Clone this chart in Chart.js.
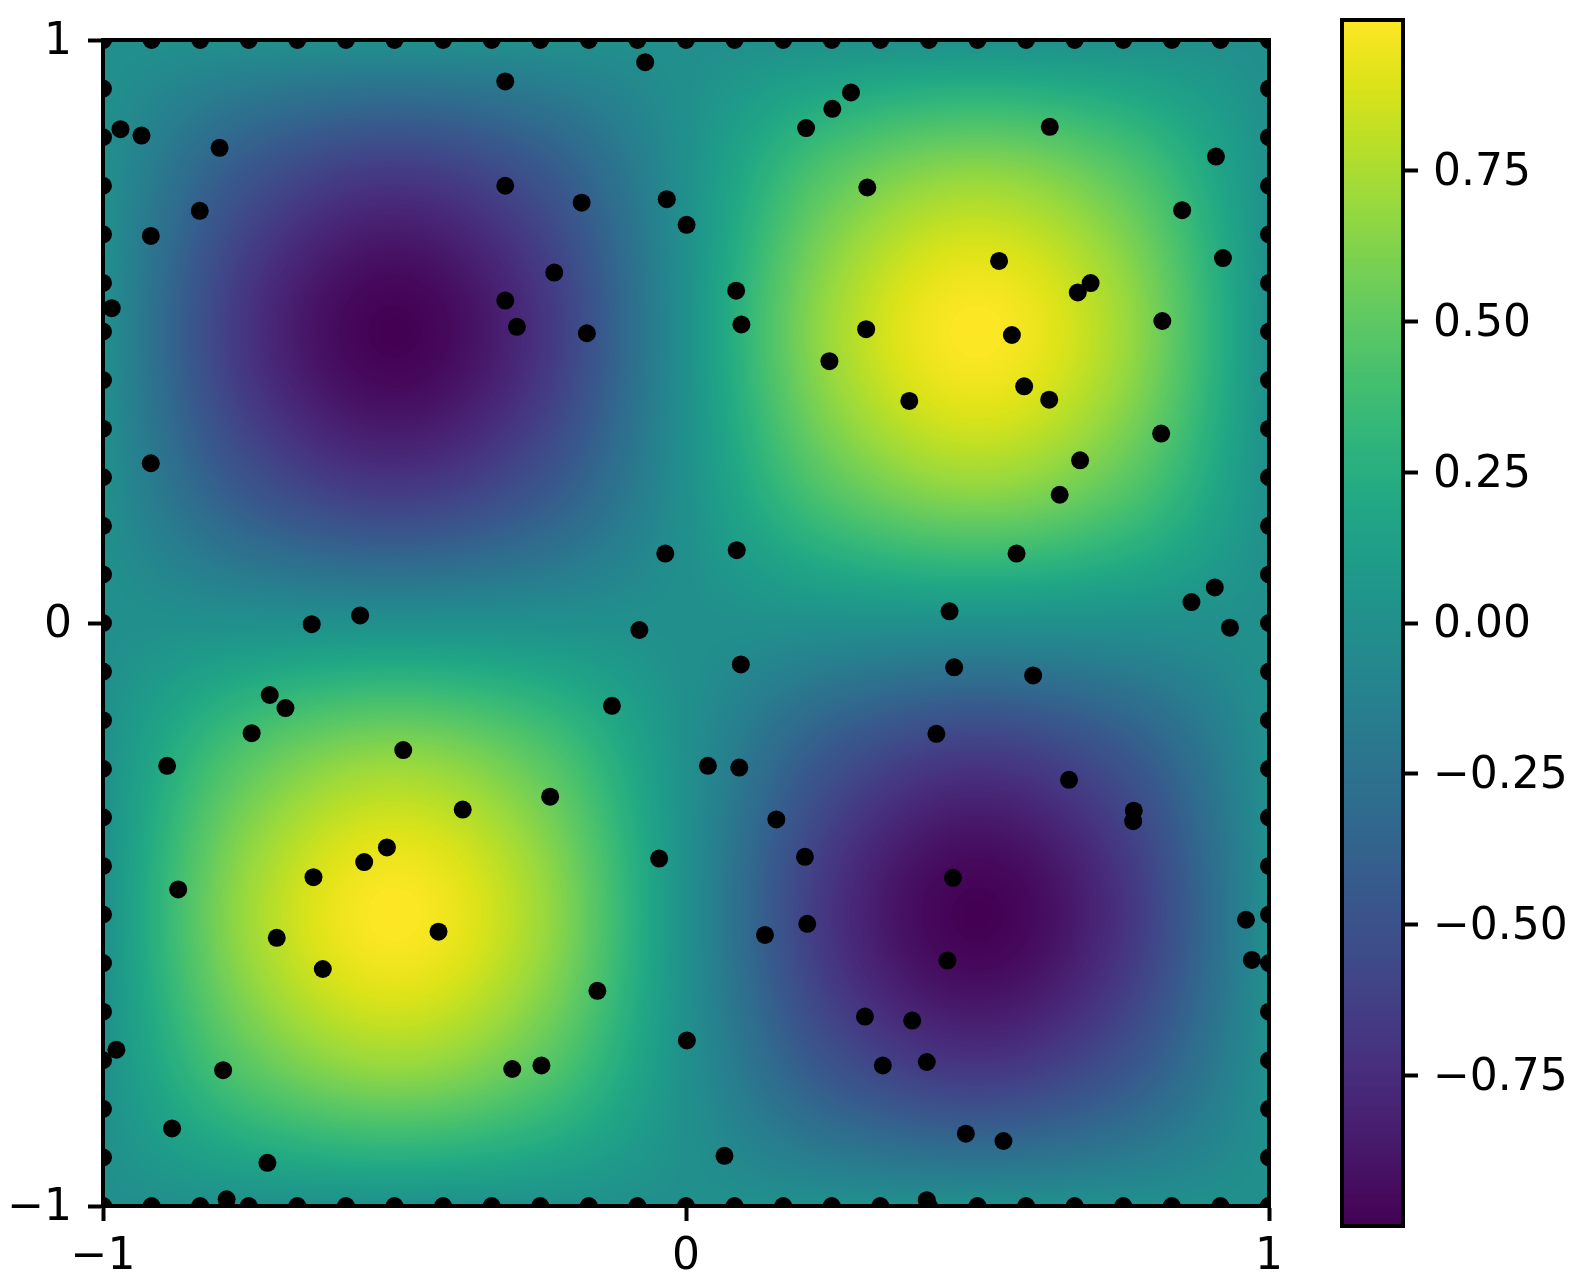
<!DOCTYPE html>
<html><head><meta charset="utf-8">
<script src="https://cdn.jsdelivr.net/npm/chart.js@4/dist/chart.umd.min.js"></script>
<style>
html,body{margin:0;padding:0;background:#fff;overflow:hidden}
#wrap{position:relative;width:1585px;height:1282px;background:#fff}
#main{position:absolute;left:0;top:0}
#cb{position:absolute;left:1300px;top:0}
</style></head><body>
<div id="wrap"><canvas id="main" width="1585" height="1282"></canvas><canvas id="cb" width="285" height="1282"></canvas></div>
<script>
// ---------- data ----------
const pointX = [-0.310,-0.070,-0.970,-0.934,-0.800,-0.834,-0.918,-0.985,-0.918,-0.310,
  -0.179,-0.033,0.001,-0.226,-0.310,-0.290,-0.170,0.206,0.251,0.283,
  0.311,0.624,0.909,0.851,0.921,0.086,0.095,0.537,0.694,0.672,
  0.309,0.559,0.817,0.246,0.580,0.383,0.623,0.815,0.676,0.641,
  -0.0355,0.087,0.567,0.907,0.867,0.933,0.452,-0.642,-0.559,-0.080,
  0.094,0.460,0.5955,-0.714,-0.687,-0.127,-0.745,0.4295,-0.485,-0.890,
  0.0376,0.0914,0.657,-0.383,-0.233,0.768,0.767,0.155,-0.513,-0.552,
  -0.639,-0.046,0.204,0.458,-0.871,0.208,-0.4245,-0.702,0.1355,0.4485,
  -0.623,0.9605,0.9705,-0.152,0.307,0.388,0.0015,-0.977,-0.298,-0.248,
  -0.794,0.3376,0.413,-0.8815,0.480,0.5445,0.066,-0.718,-0.788,0.413];
const pointY = [0.929,0.962,0.847,0.836,0.815,0.707,0.664,0.540,0.274,0.750,
  0.721,0.727,0.683,0.601,0.553,0.508,0.497,0.849,0.882,0.910,
  0.747,0.851,0.800,0.708,0.626,0.570,0.512,0.621,0.583,0.567,
  0.504,0.494,0.518,0.449,0.406,0.381,0.383,0.325,0.279,0.220,
  0.119,0.125,0.119,0.061,0.036,-0.008,0.020,-0.002,0.013,-0.012,
  -0.071,-0.076,-0.090,-0.1235,-0.146,-0.142,-0.189,-0.190,-0.218,-0.245,
  -0.245,-0.248,-0.269,-0.320,-0.298,-0.322,-0.340,-0.337,-0.385,-0.410,
  -0.436,-0.404,-0.401,-0.437,-0.457,-0.516,-0.5295,-0.540,-0.535,-0.579,
  -0.5935,-0.509,-0.578,-0.631,-0.675,-0.682,-0.716,-0.732,-0.765,-0.759,
  -0.767,-0.759,-0.753,-0.867,-0.876,-0.8885,-0.914,-0.926,-0.9885,-0.990];
// points placed along the four borders of the square
const edgeValues = [-1,-0.9167,-0.8333,-0.75,-0.6667,-0.5833,-0.5,-0.4167,-0.3333,-0.25,-0.1667,-0.0833,
  0,0.0833,0.1667,0.25,0.3333,0.4167,0.5,0.5833,0.6667,0.75,0.8333,0.9167,1];
const edgeLevels = [-1, 1];

const xTicks = [-1, 0, 1];
const xTickLabels = ['\u22121', '0', '1'];
const yTicks = [-1, 0, 1];
const yTickLabels = ['\u22121', '0', '1'];
const cbTicks = [-0.75, -0.5, -0.25, 0, 0.25, 0.5, 0.75];
const cbTickLabels = ['\u22120.75', '\u22120.50', '\u22120.25', '0.00', '0.25', '0.50', '0.75'];

// background field sampled on a coarse lattice (rows top -> bottom)
const fieldX = [-1, -0.75, -0.5, -0.25, 0, 0.25, 0.5, 0.75, 1];
const fieldY = [1, 0.75, 0.5, 0.25, 0, -0.25, -0.5, -0.75, -1];
const fieldValues = [
  [0, 0, 0, 0, 0, 0, 0, 0, 0],
  [0, -0.5, -0.71, -0.5, 0, 0.5, 0.71, 0.5, 0],
  [0, -0.71, -1, -0.71, 0, 0.71, 1, 0.71, 0],
  [0, -0.5, -0.71, -0.5, 0, 0.5, 0.71, 0.5, 0],
  [0, 0, 0, 0, 0, 0, 0, 0, 0],
  [0, 0.5, 0.71, 0.5, 0, -0.5, -0.71, -0.5, 0],
  [0, 0.71, 1, 0.71, 0, -0.71, -1, -0.71, 0],
  [0, 0.5, 0.71, 0.5, 0, -0.5, -0.71, -0.5, 0],
  [0, 0, 0, 0, 0, 0, 0, 0, 0]
];
const colorMin = -1, colorMax = 1;

// ---------- style ----------
const viridisStops = ['#440154','#471365','#482475','#463480','#414487','#3b528b','#355f8d','#2f6c8e',
  '#2a788e','#25848e','#21908c','#1e9c89','#22a884','#2fb47c','#44bf70','#5dc863','#7ad151','#9ad93c',
  '#bbdf27','#dee318','#fde725'];
const FONT = {family: "'DejaVu Sans', sans-serif", size: 44};
Chart.defaults.font.family = FONT.family;

// colour lookup table
const LUT = (() => {
  const rgb = viridisStops.map(h => [parseInt(h.slice(1,3),16), parseInt(h.slice(3,5),16), parseInt(h.slice(5,7),16)]);
  const out = [];
  for (let i = 0; i < 256; i++) {
    const p = i / 255 * (rgb.length - 1);
    const k = Math.min(Math.floor(p), rgb.length - 2);
    const f = p - k;
    out.push([0,1,2].map(c => Math.round(rgb[k][c] + (rgb[k+1][c] - rgb[k][c]) * f)));
  }
  return out;
})();
function colorOf(v) {
  let idx = Math.round((v - colorMin) / (colorMax - colorMin) * 255);
  return LUT[Math.max(0, Math.min(255, idx))];
}

// padded lattice for smooth (Catmull-Rom) rendering of the field
const padded = (() => {
  const R = fieldValues.length, C = fieldValues[0].length;
  const P = [];
  for (let r = 0; r < R + 2; r++) P.push(new Array(C + 2).fill(0));
  for (let r = 0; r < R; r++) for (let c = 0; c < C; c++) P[r+1][c+1] = fieldValues[r][c];
  for (let r = 1; r <= R; r++) { P[r][0] = 2*P[r][1] - P[r][2]; P[r][C+1] = 2*P[r][C] - P[r][C-1]; }
  for (let c = 0; c < C + 2; c++) { P[0][c] = 2*P[1][c] - P[2][c]; P[R+1][c] = 2*P[R][c] - P[R-1][c]; }
  return P;
})();
function crWeights(axis, v) {
  let k = 0;
  const asc = axis[1] > axis[0];
  for (let i = 0; i < axis.length - 1; i++) {
    const a = axis[i], b = axis[i+1];
    if ((asc && v >= a && v <= b) || (!asc && v <= a && v >= b)) { k = i; break; }
    if (i === axis.length - 2) k = i;
  }
  let t = (v - axis[k]) / (axis[k+1] - axis[k]);
  t = Math.max(0, Math.min(1, t));
  const t2 = t*t, t3 = t2*t;
  return {k, w: [(-t3 + 2*t2 - t)/2, (3*t3 - 5*t2 + 2)/2, (-3*t3 + 4*t2 + t)/2, (t3 - t2)/2]};
}

const heatmapPlugin = {
  id: 'heatmap',
  beforeDatasetsDraw(chart) {
    const {ctx, chartArea: a, scales: {x: xs, y: ys}} = chart;
    const L = Math.round(a.left), T = Math.round(a.top);
    const W = Math.round(a.right) - L, H = Math.round(a.bottom) - T;
    const img = ctx.createImageData(W, H);
    const cols = [], rows = [];
    for (let i = 0; i < W; i++) cols.push(crWeights(fieldX, xs.getValueForPixel(L + i + 0.5)));
    for (let j = 0; j < H; j++) rows.push(crWeights(fieldY, ys.getValueForPixel(T + j + 0.5)));
    const d = img.data;
    for (let j = 0; j < H; j++) {
      const rw = rows[j];
      for (let i = 0; i < W; i++) {
        const cw = cols[i];
        let v = 0;
        for (let m = 0; m < 4; m++) {
          const row = padded[rw.k + m];
          let s = 0;
          for (let n = 0; n < 4; n++) s += cw.w[n] * row[cw.k + n];
          v += rw.w[m] * s;
        }
        const c = colorOf(v);
        const o = (j * W + i) * 4;
        d[o] = c[0]; d[o+1] = c[1]; d[o+2] = c[2]; d[o+3] = 255;
      }
    }
    ctx.putImageData(img, L, T);
  }
};

const framePlugin = {
  id: 'frame',
  afterDatasetsDraw(chart) {
    const {ctx, chartArea: a} = chart;
    ctx.save();
    ctx.strokeStyle = '#000';
    ctx.lineWidth = 4;
    ctx.lineCap = 'square';
    ctx.beginPath();
    ctx.moveTo(a.left, a.top); ctx.lineTo(a.right, a.top); ctx.lineTo(a.right, a.bottom);
    ctx.stroke();
    ctx.restore();
  }
};

// build the scatter table
const points = [];
for (let i = 0; i < pointX.length; i++) points.push({x: pointX[i], y: pointY[i]});
for (const lv of edgeLevels) for (const v of edgeValues) { points.push({x: v, y: lv}); points.push({x: lv, y: v}); }

function zeroPad(s) { s.paddingTop = 0; s.paddingBottom = 0; s.paddingLeft = 0; s.paddingRight = 0; }

function axisOpts(ticksArr, labelsArr, isX) {
  return {
    type: 'linear', min: -1, max: 1,
    position: isX ? 'bottom' : 'left',
    afterFit: s => { if (isX) s.height = 76; else s.width = 103; zeroPad(s); },
    afterBuildTicks: s => { s.ticks = ticksArr.map(v => ({value: v})); },
    ticks: {autoSkip: false, maxRotation: 0, minRotation: 0, font: FONT, color: '#000',
      padding: isX ? 10 : 16, labelOffset: isX ? 0 : 3,
      callback: v => labelsArr[ticksArr.indexOf(v)]},
    grid: {display: true, drawOnChartArea: false, drawTicks: true, tickLength: 15, tickWidth: 4, tickColor: '#000'},
    border: {display: true, color: '#000', width: 4, z: 1}
  };
}

new Chart(document.getElementById('main'), {
  type: 'scatter',
  data: {datasets: [{data: points, pointRadius: 9, pointHoverRadius: 9, pointBackgroundColor: '#000',
    backgroundColor: '#000', borderWidth: 0, pointBorderWidth: 0, clip: 0}]},
  options: {
    responsive: false, animation: false, events: [],
    layout: {padding: {top: 40, right: 316, bottom: 0, left: 0}},
    plugins: {legend: {display: false}, tooltip: {enabled: false}},
    scales: {x: axisOpts(xTicks, xTickLabels, true), y: axisOpts(yTicks, yTickLabels, false)}
  },
  plugins: [heatmapPlugin, framePlugin]
});

// ---------- colour bar ----------
const colorbarPlugin = {
  id: 'colorbar',
  beforeDatasetsDraw(chart) {
    const {ctx, chartArea: a, scales: {y: ys}} = chart;
    ctx.save();
    for (let py = Math.floor(a.top); py < Math.ceil(a.bottom); py++) {
      const c = colorOf(ys.getValueForPixel(py + 0.5));
      ctx.fillStyle = 'rgb(' + c.join(',') + ')';
      ctx.fillRect(a.left, py, a.right - a.left, 1);
    }
    ctx.strokeStyle = '#000';
    ctx.lineWidth = 4;
    ctx.strokeRect(a.left, a.top, a.right - a.left, a.bottom - a.top);
    ctx.restore();
  }
};

new Chart(document.getElementById('cb'), {
  type: 'scatter',
  data: {datasets: []},
  options: {
    responsive: false, animation: false, events: [],
    layout: {padding: {top: 20, right: 0, bottom: 56, left: 42}},
    plugins: {legend: {display: false}, tooltip: {enabled: false}},
    scales: {
      x: {display: false, min: 0, max: 1},
      y: {
        type: 'linear', min: colorMin, max: colorMax, position: 'right',
        afterFit: s => { s.width = 182; zeroPad(s); },
        afterBuildTicks: s => { s.ticks = cbTicks.map(v => ({value: v})); },
        ticks: {autoSkip: false, font: FONT, color: '#000', padding: 15, labelOffset: 3,
          callback: v => cbTickLabels[cbTicks.indexOf(v)]},
        grid: {display: true, drawOnChartArea: false, drawTicks: true, tickLength: 15, tickWidth: 4, tickColor: '#000'},
        border: {display: false}
      }
    }
  },
  plugins: [colorbarPlugin]
});
</script>
</body></html>
